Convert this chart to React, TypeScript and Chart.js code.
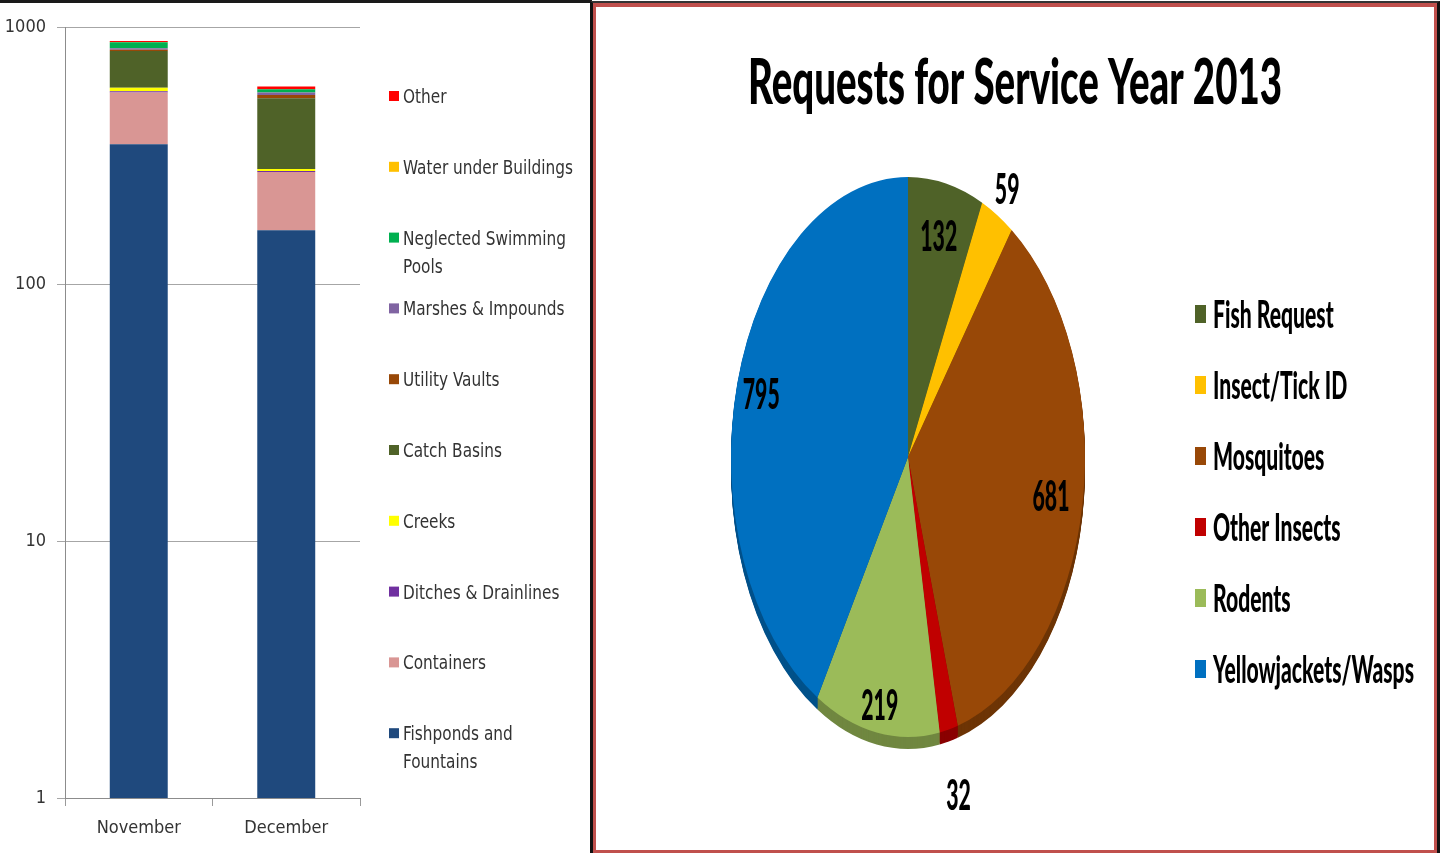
import React, { useEffect, useRef } from "react";
import { Chart, registerables } from "chart.js";
Chart.register(...registerables);

// ---------- Left chart data ----------
const months = ["November", "December"];
const seriesNames = [
  "Fishponds and Fountains",
  "Containers",
  "Ditches & Drainlines",
  "Creeks",
  "Catch Basins",
  "Utility Vaults",
  "Marshes & Impounds",
  "Neglected Swimming Pools",
  "Water under Buildings",
  "Other",
];
const fishponds = [350, 162];
const containers = [206, 111];
const ditches = [6, 2];
const creeks = [18, 5];
const catchBasins = [226, 248];
const utilityVaults = [10, 16];
const marshes = [10, 12];
const swimmingPools = [46, 16];
const waterUnderBuildings = [2, 1];
const otherSources = [8, 14];
const yTickValues = [1, 10, 100, 1000];

// ---------- Right chart data ----------
const pieTitle = "Requests for Service Year 2013";
const pieCategories = ["Fish Request", "Insect/Tick ID", "Mosquitoes", "Other Insects", "Rodents", "Yellowjackets/Wasps"];
const pieValues = [132, 59, 681, 32, 219, 795];

// ---------- Styles ----------
const barColors = ["#1f497d", "#d99694", "#7030a0", "#ffff00", "#4f6228", "#984807", "#8064a2", "#00b050", "#ffc000", "#ff0000"];
const pieColors = ["#4f6228", "#ffc000", "#984807", "#c00000", "#9bbb59", "#0070c0"];
const pieLabelRadius = [0.81, 1.11, 0.82, 1.24, 0.9, 0.86];
const LEFT_FONT = "'Liberation Sans Narrow', 'DejaVu Sans Condensed', Lato, sans-serif";
const RIGHT_FONT = "Lato, 'Open Sans', sans-serif";
const PIE_SQUASH = 0.632;
const PIE_DEPTH = 12;

function drawScaled(ctx: any, text: string, x: number, y: number, sx: number, align: string) {
  ctx.save();
  ctx.translate(x, y);
  ctx.scale(sx, 1);
  ctx.textAlign = align;
  ctx.textBaseline = "alphabetic";
  ctx.fillText(text, 0, 0);
  ctx.restore();
}

function wrapText(ctx: any, text: string, maxW: number): string[] {
  const words = text.split(" ");
  const lines: string[] = [];
  let cur = "";
  for (const w of words) {
    const test = cur ? cur + " " + w : w;
    if (cur && ctx.measureText(test).width > maxW) {
      lines.push(cur);
      cur = w;
    } else cur = test;
  }
  if (cur) lines.push(cur);
  return lines;
}

function darken(hex: string, f: number) {
  const n = parseInt(hex.slice(1), 16);
  const r = Math.round(((n >> 16) & 255) * f);
  const g = Math.round(((n >> 8) & 255) * f);
  const b = Math.round((n & 255) * f);
  return `rgb(${r},${g},${b})`;
}

const barLegendPlugin = {
  id: "barLegend",
  afterDraw(chart: any) {
    const { ctx, chartArea } = chart;
    const sets = chart.data.datasets;
    ctx.save();
    ctx.font = `20px ${LEFT_FONT}`;
    const sx = 170 / ctx.measureText("Water under Buildings").width;
    const capH = ctx.measureText("H").actualBoundingBoxAscent;
    const boxX = chartArea.right + 29;
    const textX = chartArea.right + 43;
    const top = 96;
    const step = 70.8;
    const lineH = 28;
    for (let k = 0; k < sets.length; k++) {
      const ds = sets[sets.length - 1 - k];
      const cy = top + k * step;
      ctx.fillStyle = ds.backgroundColor;
      ctx.fillRect(boxX, cy - 5, 10, 10);
      ctx.fillStyle = "#333333";
      const lines = wrapText(ctx, ds.label, 178 / sx);
      lines.forEach((ln, j) => drawScaled(ctx, ln, textX, cy + capH / 2 + j * lineH, sx, "left"));
    }
    ctx.restore();
  },
};

const piePlugin = {
  id: "pie3d",
  beforeDatasetsDraw(chart: any) {
    const { ctx } = chart;
    const meta = chart.getDatasetMeta(0);
    const arcs = meta.data;
    const cx = arcs[0].x;
    ctx.save();
    ctx.translate(cx, 0);
    ctx.scale(PIE_SQUASH, 1);
    ctx.translate(-cx, 0);
    // side wall of the 3D pie
    for (let d = PIE_DEPTH; d >= 1; d--) {
      arcs.forEach((arc: any, i: number) => {
        const orig = arc.options;
        arc.options = Object.assign({}, orig, { backgroundColor: darken(pieColors[i], 0.72) });
        ctx.save();
        ctx.translate(0, d);
        arc.draw(ctx);
        ctx.restore();
        arc.options = orig;
      });
    }
  },
  afterDatasetsDraw(chart: any) {
    chart.ctx.restore();
  },
  afterDraw(chart: any) {
    const { ctx, chartArea } = chart;
    const meta = chart.getDatasetMeta(0);
    const arcs = meta.data;
    const cx = arcs[0].x;
    const cy = arcs[0].y;
    ctx.save();
    ctx.fillStyle = "#000";

    // title
    ctx.font = `900 62px ${RIGHT_FONT}`;
    const sxT = 534 / ctx.measureText(pieTitle).width;
    drawScaled(ctx, pieTitle, 419, 96, sxT, "center");

    // data labels
    ctx.font = `900 42px ${RIGHT_FONT}`;
    const sxN = 37 / ctx.measureText("000").width;
    const capN = ctx.measureText("0").actualBoundingBoxAscent;
    arcs.forEach((arc: any, i: number) => {
      const a = (arc.startAngle + arc.endAngle) / 2;
      const r = arc.outerRadius * pieLabelRadius[i];
      const x = cx + Math.cos(a) * r * PIE_SQUASH;
      const y = cy + Math.sin(a) * r;
      drawScaled(ctx, String(chart.data.datasets[0].data[i]), x, y + capN / 2, sxN, "center");
    });

    // legend
    ctx.font = `900 38px ${RIGHT_FONT}`;
    const sxL = 201 / ctx.measureText("Yellowjackets/Wasps").width;
    const capL = ctx.measureText("H").actualBoundingBoxAscent;
    const boxX = chartArea.right + 7;
    const textX = chartArea.right + 25;
    const top = cy - 143;
    chart.data.labels.forEach((lab: string, i: number) => {
      const y = top + i * 71;
      ctx.fillStyle = pieColors[i];
      ctx.fillRect(boxX, y - 9, 11, 18);
      ctx.fillStyle = "#000";
      drawScaled(ctx, lab, textX, y + capL / 2, sxL, "left");
    });
    ctx.restore();
  },
};

export default function App() {
  const barRef = useRef<HTMLCanvasElement>(null);
  const pieRef = useRef<HTMLCanvasElement>(null);

  useEffect(() => {
    const seriesValues = [fishponds, containers, ditches, creeks, catchBasins, utilityVaults, marshes, swimmingPools, waterUnderBuildings, otherSources];
    const tickFont = { family: LEFT_FONT, size: 18 };
    const bar = new Chart(barRef.current as HTMLCanvasElement, {
      type: "bar",
      data: {
        labels: months,
        datasets: seriesNames.map((name, i) => ({
          label: name,
          data: seriesValues[i],
          backgroundColor: barColors[i],
          borderWidth: 0,
          barPercentage: 0.393,
          categoryPercentage: 1,
        })),
      },
      options: {
        animation: false,
        responsive: false,
        layout: { padding: { left: 0, right: 230, top: 27, bottom: 0 } },
        plugins: { legend: { display: false }, tooltip: { enabled: false }, title: { display: false } },
        scales: {
          x: {
            stacked: true,
            offset: true,
            grid: { offset: true, drawOnChartArea: false, drawTicks: true, tickLength: 8, color: "#9a9a9a" },
            border: { display: true, color: "#8c8c8c" },
            ticks: { font: tickFont, color: "#333333", padding: 12 },
            afterFit: (s: any) => {
              s.height = 55;
            },
          },
          y: {
            type: "logarithmic",
            stacked: true,
            min: 1,
            max: 1000,
            afterBuildTicks: (s: any) => {
              s.ticks = yTickValues.map((v) => ({ value: v }));
            },
            grid: { color: "#a6a6a6", tickLength: 8 },
            border: { color: "#8c8c8c" },
            ticks: { callback: (v: any) => String(v), font: tickFont, color: "#333333", padding: 11 },
            afterFit: (s: any) => {
              s.width = 65;
            },
          },
        },
      } as any,
      plugins: [barLegendPlugin],
    });

    const pie = new Chart(pieRef.current as HTMLCanvasElement, {
      type: "pie",
      data: {
        labels: pieCategories,
        datasets: [{ data: pieValues, backgroundColor: pieColors, borderWidth: 0, clip: false } as any],
      },
      options: {
        animation: false,
        responsive: false,
        layout: { padding: { left: 32, right: 246, top: 169, bottom: 113 } },
        plugins: { legend: { display: false }, tooltip: { enabled: false }, title: { display: false } },
      } as any,
      plugins: [piePlugin],
    });

    return () => {
      bar.destroy();
      pie.destroy();
    };
  }, []);

  return (
    <div style={{ position: "absolute", left: 0, top: 0, width: 1440, height: 853, background: "#fff", overflow: "hidden" }}>
      <div style={{ position: "absolute", left: 0, top: 0, width: 592, height: 3, background: "#1a1a1a" }} />
      <div
        style={{
          position: "absolute",
          left: 590,
          top: 1,
          width: 850,
          height: 852,
          boxSizing: "border-box",
          borderLeft: "3px solid #111",
          borderRight: "3px solid #111",
          borderTop: "2px solid #333",
        }}
      >
        <div
          style={{
            position: "absolute",
            left: 0,
            top: 0,
            right: 0,
            bottom: 0,
            borderStyle: "solid",
            borderColor: "#c0504d",
            borderWidth: "4px 3px 3px 3px",
          }}
        />
      </div>
      <canvas ref={barRef} width={590} height={853} style={{ position: "absolute", left: 0, top: 0, width: 590, height: 853 }} />
      <canvas ref={pieRef} width={838} height={842} style={{ position: "absolute", left: 596, top: 8, width: 838, height: 842 }} />
    </div>
  );
}
